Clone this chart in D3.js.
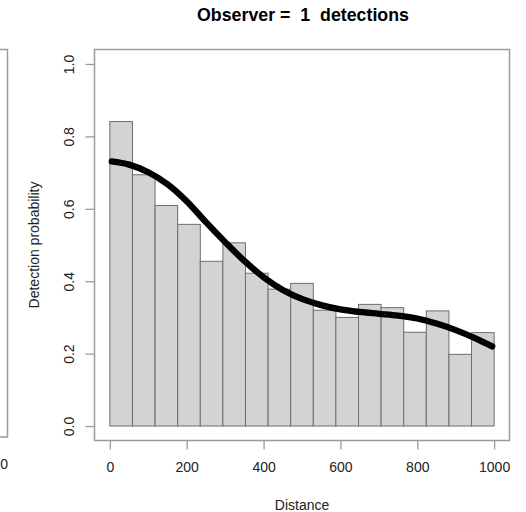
<!DOCTYPE html>
<html>
<head>
<meta charset="utf-8">
<script src="https://cdn.jsdelivr.net/npm/d3@7"></script>
<style>
  html, body { margin: 0; padding: 0; background: #fff; }
  svg { display: block; font-family: "Liberation Sans", Arial, sans-serif; }
  .pre { white-space: pre; }
</style>
</head>
<body>
<svg id="chart" width="526" height="512"></svg>
<script>
// ---- data ----
const title = "Observer =  1  detections";
const xLabel = "Distance";
const yLabel = "Detection probability";
const binEdges = [0, 58.8, 117.6, 176.5, 235.3, 294.1, 352.9, 411.8, 470.6, 529.4,
                  588.2, 647.1, 705.9, 764.7, 823.5, 882.4, 941.2, 1000];
const binHeights = [0.841, 0.694, 0.609, 0.557, 0.455, 0.506, 0.422, 0.378, 0.394,
                    0.320, 0.300, 0.336, 0.327, 0.259, 0.318, 0.198, 0.258];
const curveDist = [5, 50, 100, 150, 200, 250, 300, 350, 400, 450, 500, 550, 600,
                   650, 700, 750, 800, 850, 900, 950, 995];
const curveProb = [0.731, 0.722, 0.701, 0.668, 0.621, 0.563, 0.508, 0.456, 0.411,
                   0.376, 0.351, 0.334, 0.322, 0.315, 0.310, 0.305, 0.297, 0.283,
                   0.265, 0.243, 0.220];
const xTicks = [0, 200, 400, 600, 800, 1000];
const yTicks = [0.0, 0.2, 0.4, 0.6, 0.8, 1.0];
const leftPanelTick = "0";

// ---- layout ----
const svg = d3.select("#chart");
const box = { left: 94.5, right: 509.5, top: 49.5, bottom: 440.5 };
const x = d3.scaleLinear().domain([-40, 1040]).range([box.left, box.right]);
const y = d3.scaleLinear().domain([-0.04, 1.04]).range([box.bottom, box.top]);
const frameCol = "#9a9a9a";
const textCol = "#222";

// left neighbouring panel remnant
svg.append("rect")
  .attr("x", -20).attr("y", 49.5).attr("width", 27.5).attr("height", 387.5)
  .attr("fill", "none").attr("stroke", frameCol).attr("stroke-width", 1.5);
svg.append("text")
  .attr("x", 8).attr("y", 468.5)
  .attr("text-anchor", "end").attr("font-size", 14).attr("fill", textCol)
  .text(leftPanelTick);

// bars
svg.append("g").selectAll("rect")
  .data(binHeights)
  .join("rect")
  .attr("x", (d, i) => x(binEdges[i]))
  .attr("width", (d, i) => x(binEdges[i + 1]) - x(binEdges[i]))
  .attr("y", d => y(d))
  .attr("height", d => y(0) - y(d))
  .attr("fill", "#d3d3d3")
  .attr("stroke", "#6e6e6e")
  .attr("stroke-width", 1);

// fitted detection curve (dense circles rendered as a thick band)
const pts = curveDist.map((d, i) => [d, curveProb[i]]);
const line = d3.line().x(d => x(d[0])).y(d => y(d[1])).curve(d3.curveCatmullRom.alpha(0.5));
svg.append("path")
  .attr("d", line(pts))
  .attr("fill", "none")
  .attr("stroke", "#000")
  .attr("stroke-width", 6.3)
  .attr("stroke-linecap", "round");
svg.append("path")
  .attr("d", line(pts))
  .attr("fill", "none")
  .attr("stroke", "#666")
  .attr("stroke-width", 0.6)
  .attr("stroke-dasharray", "1.5 7")
  .attr("opacity", 0.6);

// plot frame
svg.append("rect")
  .attr("x", box.left).attr("y", box.top)
  .attr("width", box.right - box.left).attr("height", box.bottom - box.top)
  .attr("fill", "none").attr("stroke", frameCol).attr("stroke-width", 1.5);

// x axis
const xAxis = d3.axisBottom(x).tickValues(xTicks).tickSize(9).tickPadding(13)
  .tickFormat(d3.format("d"));
const gx = svg.append("g").attr("transform", `translate(0,${box.bottom})`).call(xAxis);
gx.select(".domain").remove();
gx.selectAll(".tick line").attr("stroke", frameCol).attr("stroke-width", 1.3);
gx.selectAll(".tick text").attr("font-size", 14).attr("fill", textCol)
  .attr("font-family", "Liberation Sans, Arial, sans-serif");

// y axis
const yAxis = d3.axisLeft(y).tickValues(yTicks).tickSize(9).tickFormat(d3.format(".1f"));
const gy = svg.append("g").attr("transform", `translate(${box.left},0)`).call(yAxis);
gy.select(".domain").remove();
gy.selectAll(".tick line").attr("stroke", frameCol).attr("stroke-width", 1.3);
gy.selectAll(".tick text")
  .attr("font-size", 14).attr("fill", textCol)
  .attr("font-family", "Liberation Sans, Arial, sans-serif")
  .attr("x", null).attr("dy", null)
  .attr("text-anchor", "middle")
  .attr("transform", "translate(-21,0) rotate(-90)");

// titles
svg.append("text")
  .attr("class", "pre")
  .attr("x", 303).attr("y", 20.5)
  .attr("text-anchor", "middle").attr("font-size", 17.8).attr("font-weight", "bold")
  .attr("fill", "#000").text(title);
svg.append("text")
  .attr("x", (box.left + box.right) / 2).attr("y", 509.5)
  .attr("text-anchor", "middle").attr("font-size", 14).attr("fill", textCol)
  .text(xLabel);
svg.append("text")
  .attr("transform", `translate(39,${(box.top + box.bottom) / 2}) rotate(-90)`)
  .attr("text-anchor", "middle").attr("font-size", 14).attr("fill", textCol)
  .text(yLabel);
</script>
</body>
</html>
